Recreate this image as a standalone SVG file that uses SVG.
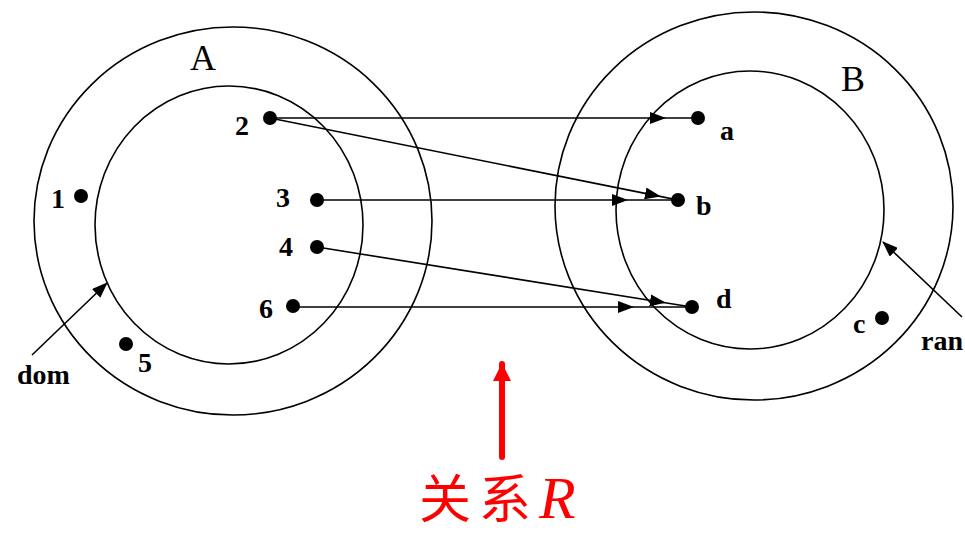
<svg xmlns="http://www.w3.org/2000/svg" width="965" height="537" viewBox="0 0 965 537">
<style>
.c{fill:none;stroke:#000;stroke-width:1.6}
.ln{fill:none;stroke:#000;stroke-width:1.6}
.dot{fill:#000}
.lb{font-family:"Liberation Serif",serif;font-weight:bold;font-size:28px;fill:#000}
.big{font-family:"Liberation Serif",serif;font-size:36px;fill:#000}
</style>
<defs>
<marker id="ah" viewBox="0 0 16 12" refX="15" refY="6" markerWidth="16" markerHeight="12" markerUnits="userSpaceOnUse" orient="auto">
<path d="M0,0 L16,6 L0,12 Z" fill="#000"/>
</marker>
<marker id="rh" viewBox="0 0 18 18" refX="17" refY="9" markerWidth="18" markerHeight="18" markerUnits="userSpaceOnUse" orient="auto">
<path d="M0,0 L18,9 L0,18 Z" fill="#f00"/>
</marker>
</defs>
<g id="setA">
<ellipse class="c" cx="233" cy="221" rx="199" ry="194"/>
<text class="big" x="190" y="70">A</text>
</g>
<g id="domA">
<ellipse class="c" cx="229" cy="225" rx="134" ry="139"/>
</g>
<g id="setB">
<ellipse class="c" cx="754" cy="206" rx="199" ry="194"/>
<text class="big" x="841" y="91">B</text>
</g>
<g id="ranB">
<ellipse class="c" cx="750" cy="210" rx="134" ry="139"/>
</g>
<g id="n1"><circle class="dot" cx="81" cy="196" r="7"/><text class="lb" x="51" y="208">1</text></g>
<g id="n2"><circle class="dot" cx="270" cy="118" r="7"/><text class="lb" x="235" y="135">2</text></g>
<g id="n3"><circle class="dot" cx="317" cy="200" r="7"/><text class="lb" x="276" y="207">3</text></g>
<g id="n4"><circle class="dot" cx="317" cy="247" r="7"/><text class="lb" x="279" y="256">4</text></g>
<g id="n5"><circle class="dot" cx="126" cy="344" r="7"/><text class="lb" x="138" y="372">5</text></g>
<g id="n6"><circle class="dot" cx="293" cy="306" r="7"/><text class="lb" x="259" y="318">6</text></g>
<g id="na"><circle class="dot" cx="698" cy="118" r="7"/><text class="lb" x="720" y="140">a</text></g>
<g id="nb"><circle class="dot" cx="678" cy="200" r="7"/><text class="lb" x="696" y="215">b</text></g>
<g id="nd"><circle class="dot" cx="692" cy="307" r="7"/><text class="lb" x="716" y="308">d</text></g>
<g id="nc"><circle class="dot" cx="882" cy="318" r="7"/><text class="lb" x="853" y="333">c</text></g>
<g id="domLabel"><text class="lb" x="17" y="384">dom</text></g>
<g id="ranLabel"><text class="lb" x="921" y="350">ran</text></g>
<g id="connectors">
<path class="ln" d="M270,118 L665,118 L698,118" marker-mid="url(#ah)"/>
<path class="ln" d="M270,118 L660,196.4 L678,200" marker-mid="url(#ah)"/>
<path class="ln" d="M317,200 L627,200 L678,200" marker-mid="url(#ah)"/>
<path class="ln" d="M317,247 L665,302.7 L692,307" marker-mid="url(#ah)"/>
<path class="ln" d="M293,307 L633,307 L692,307" marker-mid="url(#ah)"/>
<path class="ln" d="M32,355 L107,283" marker-end="url(#ah)"/>
<path class="ln" d="M962,317 L883,242" marker-end="url(#ah)"/>
<path d="M502,457 L502,364" fill="none" stroke="#f00" stroke-width="6" stroke-linecap="round" marker-end="url(#rh)"/>
</g>
<g id="relLabel">
<text x="419" y="518" font-size="52" fill="#f00" letter-spacing="8" font-family="'Noto Sans CJK SC',serif">关系<tspan font-family="'Liberation Serif',serif" font-style="italic" font-size="60">R</tspan></text>
</g>
</svg>
